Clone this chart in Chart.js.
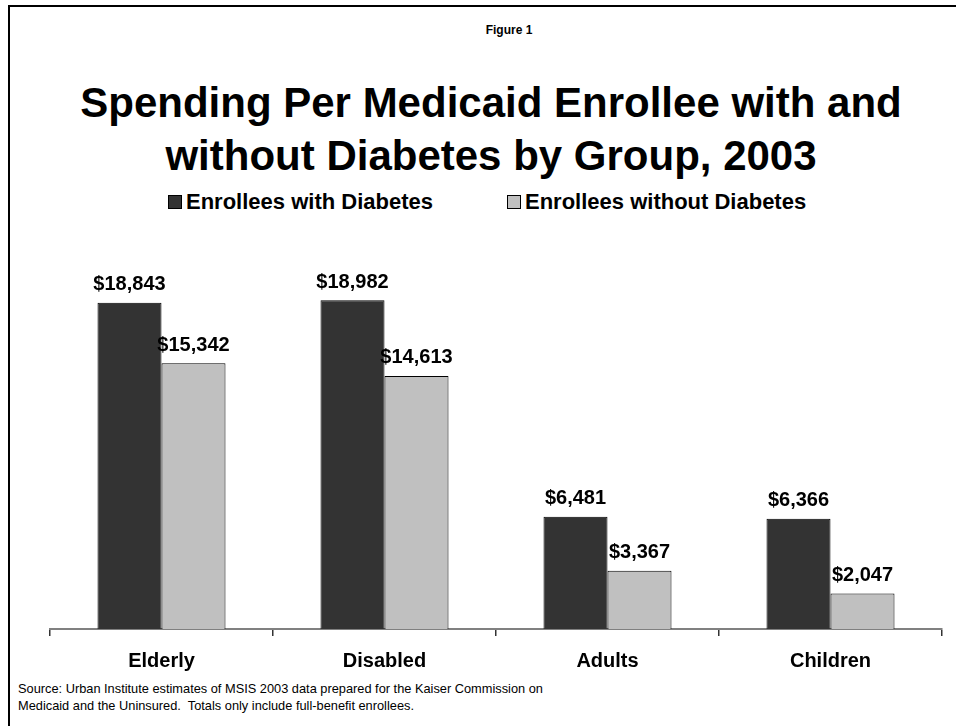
<!DOCTYPE html>
<html>
<head>
<meta charset="utf-8">
<script src="https://cdn.jsdelivr.net/npm/chart.js@4.4.1/dist/chart.umd.min.js"></script>
<style>
  html, body { margin: 0; padding: 0; background: #fff; }
  body { width: 956px; height: 726px; position: relative; overflow: hidden;
         font-family: "Liberation Sans", Arial, sans-serif; color: #000; }
  .frame { position: absolute; left: 8px; top: 5px; right: -10px; bottom: -10px;
           border-left: 2px solid #000; border-top: 2px solid #000; }
  .fig { position: absolute; top: 23px; left: 62px; width: 894px; text-align: center;
         font-weight: bold; font-size: 12px; }
  .title { position: absolute; top: 76px; left: 26px; width: 930px; text-align: center;
           font-weight: bold; font-size: 42px; line-height: 53px; }
  .legend { position: absolute; top: 188px; left: 0; width: 956px; height: 28px;
            font-weight: bold; font-size: 22px; }
  .legend span.item { position: absolute; top: 0; white-space: nowrap; line-height: 28px; }
  .legend i { display: inline-block; width: 12px; height: 12px; border: 1px solid #000;
              margin-right: 4px; vertical-align: 0px; }
  .source { position: absolute; left: 18px; top: 680px; font-size: 12.8px; line-height: 17px; }
  canvas { position: absolute; left: 0; top: 0; }
</style>
</head>
<body>
<div class="frame"></div>
<div class="fig">Figure 1</div>
<div class="title">Spending Per Medicaid Enrollee with and<br>without Diabetes by Group, 2003</div>
<div class="legend" id="legend"></div>
<div class="source">Source: Urban Institute estimates of MSIS 2003 data prepared for the Kaiser Commission on<br>Medicaid and the Uninsured.&nbsp; Totals only include full-benefit enrollees.</div>
<canvas id="chart" width="956" height="726"></canvas>
<script>
// data
const groups = ['Elderly', 'Disabled', 'Adults', 'Children'];
const seriesNames = ['Enrollees with Diabetes', 'Enrollees without Diabetes'];
const withDiabetes = [18843, 18982, 6481, 6366];
const withoutDiabetes = [15342, 14613, 3367, 2047];
const seriesColors = ['#333333', '#c0c0c0'];

const FONT = '"Liberation Sans", Arial, sans-serif';

// legend (html)
const legendLeft = [168, 507];
const legendEl = document.getElementById('legend');
seriesNames.forEach((name, i) => {
  const item = document.createElement('span');
  item.className = 'item';
  item.style.left = legendLeft[i] + 'px';
  item.innerHTML = '<i style="background:' + seriesColors[i] + '"></i>' + name;
  legendEl.appendChild(item);
});

// dollar labels over the bars
const valueLabels = {
  id: 'valueLabels',
  afterDatasetsDraw(chart) {
    const ctx = chart.ctx;
    ctx.save();
    ctx.font = 'bold 20px ' + FONT;
    ctx.fillStyle = '#000';
    ctx.textAlign = 'center';
    ctx.textBaseline = 'middle';
    chart.data.datasets.forEach((ds, i) => {
      chart.getDatasetMeta(i).data.forEach((bar, j) => {
        ctx.fillText('$' + ds.data[j].toLocaleString('en-US'), bar.x, bar.y - 18);
      });
    });
    ctx.restore();
  }
};

const data = {
  labels: groups,
  datasets: [
    { label: seriesNames[0], data: withDiabetes, backgroundColor: seriesColors[0],
      borderColor: '#000', borderWidth: 1 },
    { label: seriesNames[1], data: withoutDiabetes, backgroundColor: seriesColors[1],
      borderColor: '#000', borderWidth: 1 }
  ]
};

const config = {
  type: 'bar',
  data: data,
  options: {
    responsive: false,
    animation: false,
    devicePixelRatio: 1,
    categoryPercentage: 0.574,
    barPercentage: 1,
    layout: { padding: { left: 50, right: 14, top: 248, bottom: 40 } },
    plugins: {
      legend: { display: false },
      tooltip: { enabled: false }
    },
    scales: {
      x: {
        grid: { offset: true, drawOnChartArea: false, tickLength: 7, color: '#333', lineWidth: 1.5 },
        border: { color: '#808080', width: 2 },
        ticks: { color: '#000', padding: 13, font: { family: FONT, size: 20, weight: 'bold' } }
      },
      y: { display: false, min: 0, max: 22000 }
    }
  },
  plugins: [valueLabels]
};

new Chart(document.getElementById('chart'), config);
</script>
</body>
</html>
